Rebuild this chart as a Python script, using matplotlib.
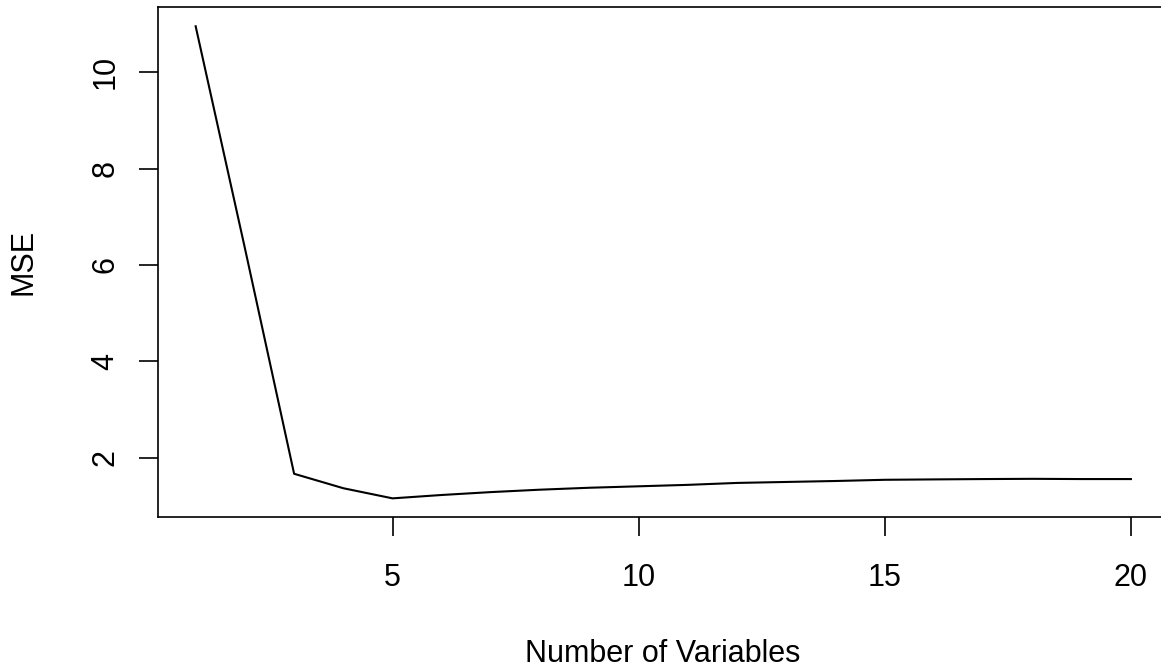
import matplotlib
matplotlib.use("Agg")
import matplotlib.pyplot as plt

# MSE vs model size
n_vars = list(range(1, 21))
mse = [10.95, 6.35, 1.67, 1.37, 1.16, 1.23, 1.29, 1.34, 1.38, 1.41,
       1.44, 1.48, 1.50, 1.52, 1.545, 1.553, 1.56, 1.565, 1.56, 1.56]

plt.rcParams["font.family"] = ["Liberation Sans", "DejaVu Sans"]

fig = plt.figure(figsize=(11.61, 6.70), dpi=100)
ax = fig.add_axes([0.1363, 0.228, 0.870, 0.761])
ax.plot(n_vars, mse, color="black", linewidth=1.5)

# R-style 4% padding
xr = max(n_vars) - min(n_vars)
yr = max(mse) - min(mse)
ax.set_xlim(min(n_vars) - 0.04 * xr, max(n_vars) + 0.04 * xr)
ax.set_ylim(min(mse) - 0.04 * yr, max(mse) + 0.04 * yr)

ax.set_xticks([5, 10, 15, 20])
ax.set_yticks([2, 4, 6, 8, 10])
ax.tick_params(axis="both", direction="out", length=14, width=1.2,
               labelsize=22)
ax.tick_params(axis="x", pad=19)
ax.tick_params(axis="y", pad=13)
for lab in ax.get_yticklabels():
    lab.set_rotation(90)
    lab.set_va("center")
for sp in ax.spines.values():
    sp.set_linewidth(1.2)

# axis titles placed like R's mtext lines
fig.text(663 / 1161, 8 / 670, "Number of Variables", fontsize=22,
         ha="center", va="baseline")
fig.text(24 / 1161, 1 - 262 / 670, "MSE", fontsize=22, rotation=90,
         ha="center", va="center")

fig.savefig("out.png", dpi=100, facecolor="white")
